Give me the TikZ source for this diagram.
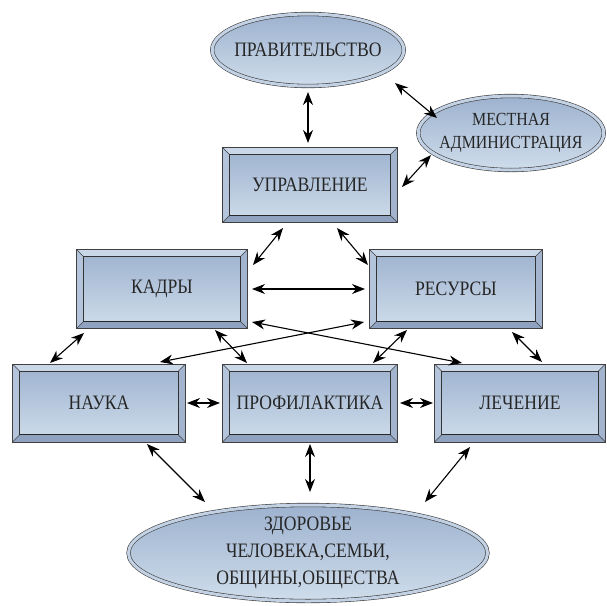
\documentclass[tikz,border=0pt]{standalone}
\usepackage{fontspec}
\setmainfont{Liberation Serif}[FakeStretch=0.86]
\usepackage{xcolor}
\usepackage{tikz}
\usetikzlibrary{shapes}
\usetikzlibrary{arrows.meta}
\usetikzlibrary{calc}
\definecolor{boxtop}{HTML}{9DB2CF}
\definecolor{boxbot}{HTML}{CFDDEB}
\definecolor{ovalband}{HTML}{C2D1E4}
\definecolor{bevtop}{HTML}{CAD7E8}
\definecolor{bevleft}{HTML}{B3C4DB}
\definecolor{bevright}{HTML}{A2B4CE}
\definecolor{bevbot}{HTML}{8FA3C1}

\begin{document}
\begin{tikzpicture}[x=1pt,y=-1pt,
  bevel/.style={rectangle,draw=black!75,line width=0.6pt,top color=boxtop,bottom color=boxbot,minimum height=77pt,text=black!85,font=\fontsize{20.5}{24}\selectfont},
  oval/.style={ellipse,draw=black!75,line width=0.6pt,double=ovalband,double distance=3pt,top color=boxtop,bottom color=boxbot,inner sep=-6pt,align=center,text=black!85},
  link/.style={{Stealth[length=13pt,width=10pt]}-{Stealth[length=13pt,width=10pt]},line width=1.1pt,black}]
  \useasboundingbox (0,0) rectangle (607,605);

  \node[oval,minimum width=181pt,minimum height=72pt,font=\fontsize{20.5}{24}\selectfont] (prav) at (308,50) {ПРАВИТЕЛЬСТВО};
  \node[oval,minimum width=172pt,minimum height=74pt,font=\fontsize{18.5}{23}\selectfont] (mest) at (511,133) {МЕСТНАЯ\\АДМИНИСТРАЦИЯ};
  \node[bevel,minimum width=174pt,minimum height=74pt] (upr) at (310,185) {УПРАВЛЕНИЕ};
  \node[bevel,minimum width=170pt,minimum height=78pt] (kadr) at (162,289) {КАДРЫ};
  \node[bevel,minimum width=172pt,minimum height=78pt] (res) at (456,289) {РЕСУРСЫ};
  \node[bevel,minimum width=172pt] (nauka) at (99,403) {НАУКА};
  \node[bevel,minimum width=174pt] (prof) at (310,403) {ПРОФИЛАКТИКА};
  \node[bevel,minimum width=170pt] (lech) at (520,403) {ЛЕЧЕНИЕ};
  \node[oval,minimum width=359pt,minimum height=96pt,font=\fontsize{20.5}{27}\selectfont] (zdor) at (308,553) {ЗДОРОВЬЕ\\ЧЕЛОВЕКА,СЕМЬИ,\\ОБЩИНЫ,ОБЩЕСТВА};

  \foreach \b in {upr,kadr,res,nauka,prof,lech}{
    \coordinate (o1) at (\b.north west);
    \coordinate (o2) at (\b.north east);
    \coordinate (o3) at (\b.south east);
    \coordinate (o4) at (\b.south west);
    \coordinate (i1) at ($(o1)+(7,7)$);
    \coordinate (i2) at ($(o2)+(-7,7)$);
    \coordinate (i3) at ($(o3)+(-7,-7)$);
    \coordinate (i4) at ($(o4)+(7,-7)$);
    \fill[bevtop] (o1) -- (o2) -- (i2) -- (i1) -- cycle;
    \fill[bevright] (o2) -- (o3) -- (i3) -- (i2) -- cycle;
    \fill[bevbot] (o3) -- (o4) -- (i4) -- (i3) -- cycle;
    \fill[bevleft] (o4) -- (o1) -- (i1) -- (i4) -- cycle;
    \draw[black!75,line width=0.5pt] (o1) -- (i1) (o2) -- (i2) (o3) -- (i3) (o4) -- (i4);
    \draw[black!80,line width=0.8pt] (i1) rectangle (i3);
    \draw[black!85,line width=1.3pt] (i4) -- (i3);
    \draw[black!75,line width=0.6pt] (o1) rectangle (o3);
  }

  \draw[link] ($(prav)+(0,42)$) -- ($(upr)+(-2,-42)$);
  \draw[link] ($(prav)+(87,33)$) -- ($(mest)+(-74,-15)$);
  \draw[link] ($(mest)+(-80,22)$) -- ($(upr)+(92,2)$);
  \draw[link] ($(upr)+(-27,43)$) -- ($(kadr)+(91,-24)$);
  \draw[link] ($(upr)+(27,43)$) -- ($(res)+(-88,-24)$);
  \draw[link] ($(kadr)+(90,0)$) -- ($(res)+(-91,0)$);
  \draw[link] ($(kadr)+(90,33)$) -- ($(lech)+(-58,-40)$);
  \draw[link] ($(res)+(-92,33)$) -- ($(nauka)+(61,-41)$);
  \draw[link] ($(kadr)+(-78,44)$) -- ($(nauka)+(-49,-40)$);
  \draw[link] ($(kadr)+(53,41)$) -- ($(prof)+(-63,-40)$);
  \draw[link] ($(res)+(-49,41)$) -- ($(prof)+(63,-40)$);
  \draw[link] ($(res)+(56,43)$) -- ($(lech)+(22,-41)$);
  \draw[link] ($(nauka)+(88,0)$) -- ($(prof)+(-90,0)$);
  \draw[link] ($(prof)+(90,0)$) -- ($(lech)+(-87,0)$);
  \draw[link] ($(nauka)+(48,41)$) -- ($(zdor)+(-103,-51)$);
  \draw[link] ($(prof)+(0,41)$) -- ($(zdor)+(2,-61)$);
  \draw[link] ($(lech)+(-50,44)$) -- ($(zdor)+(117,-51)$);
\end{tikzpicture}
\end{document}
